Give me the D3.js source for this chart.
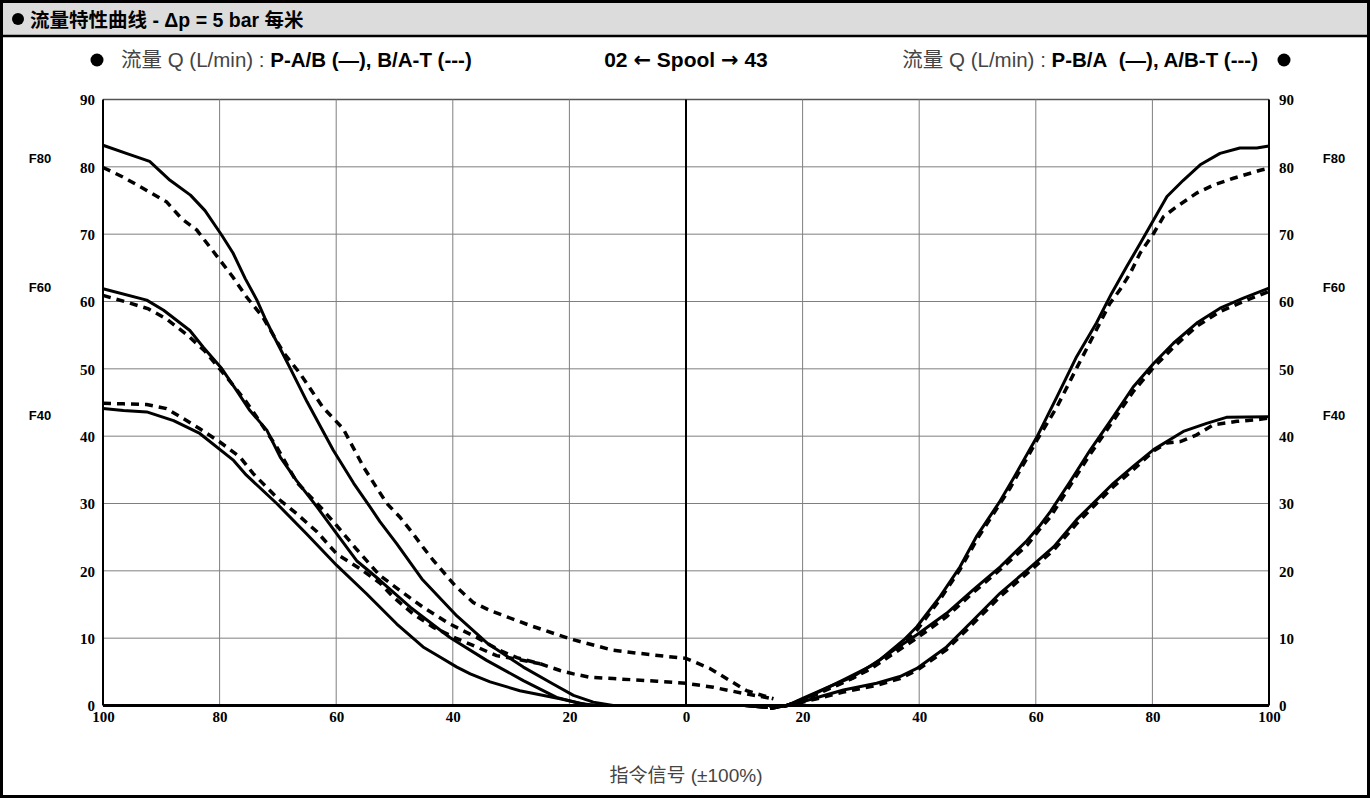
<!DOCTYPE html>
<html>
<head>
<meta charset="utf-8">
<script src="https://cdn.jsdelivr.net/npm/d3@7"></script>
<style>
  html, body { margin: 0; padding: 0; background: #fff; }
  svg { display: block; }
</style>
</head>
<body>
<svg id="chart" width="1370" height="798"></svg>
<script>
// ---------- DATA ----------
const chartTitle = "流量特性曲线 - Δp = 5 bar 每米";
const xTicks = [-100, -80, -60, -40, -20, 0, 20, 40, 60, 80, 100];
const yTicks = [0, 10, 20, 30, 40, 50, 60, 70, 80, 90];
const sizeLabels = ["F80", "F60", "F40"];
const sizeLabelValues = [81.3, 62.1, 43.1];
const xAxisTitle = "指令信号 (±100%)";

// Left side (P-A/B solid, B/A-T dashed); x negative = left command
const leftF80Solid = [[-100,83.2],[-96,82],[-92,80.8],[-88.5,78],[-85,75.8],[-82.5,73.5],[-79.6,69.8],[-77.7,67.2],[-75.6,63.4],[-73.6,60.2],[-72.2,57.5],[-70.5,54.5],[-67.9,50.1],[-65,45.1],[-60.5,37.9],[-57,33],[-54.2,29.5],[-52.5,27.3],[-49.6,24],[-45.3,18.8],[-39.3,13.3],[-34,9.2],[-27.9,5.7],[-22.8,3.2],[-19.3,1.5],[-15.9,0.5],[-12.5,0],[0,0],[10,0],[14,-0.3]];
const leftF80Dashed = [[-100,79.9],[-96.6,78.5],[-92.5,76.5],[-89.1,74.8],[-86.5,72.3],[-83.9,70.6],[-79.9,66.1],[-77.7,63.6],[-75.4,60.7],[-72.6,57.7],[-69.1,52.5],[-66.2,49.3],[-62.3,44.3],[-58.8,41.1],[-55.3,35.4],[-53.1,32.4],[-51.3,30],[-49.1,28],[-46.8,25.5],[-45.1,23.5],[-43.3,21.5],[-39.6,17.8],[-36.5,15.3],[-33.6,14.1],[-26.8,11.9],[-19.9,9.9],[-12.5,8.2],[-5.6,7.5],[0,7],[4.1,5.5],[7.5,3.7],[10.4,2.2],[15,1.0]];
const leftF60Solid = [[-100,61.9],[-92.5,60.2],[-89.6,58.7],[-85.1,55.7],[-82.8,53.2],[-79.6,50],[-77.1,46.8],[-74.8,43.8],[-71.9,40.9],[-69.6,36.9],[-66.8,33.4],[-63.3,29.5],[-59.9,25.5],[-56.5,21.5],[-52.5,18.6],[-47.3,14.6],[-40.5,10.1],[-34.2,6.7],[-27.9,3.7],[-22.2,1.2],[-18.2,0.3],[-15.3,0],[0,0],[10,0],[14,-0.3]];
const leftF60Dashed = [[-100,60.9],[-95.9,59.9],[-92.2,58.9],[-89.1,57.4],[-85.5,55],[-82.5,52.6],[-79.6,49.6],[-77.6,47.5],[-75.6,45.3],[-73.6,42.8],[-70.2,38.4],[-66.8,33.2],[-62.2,29],[-59.9,26.7],[-56.5,23.2],[-52.5,19.3],[-49.1,17.1],[-45.1,14.6],[-40.5,12.1],[-35.9,10.1],[-32,8.2],[-29,7.1],[-25,6.2],[-21.6,5.2],[-19.3,4.7],[-16.5,4.2],[-12.5,4],[-5,3.6],[0,3.3],[4.7,2.7],[9.8,1.8],[15,1.0]];
// F40 return curve merges into the F60 return curve near 25 %
const leftF40Dashed = [[-100,44.9],[-96.5,44.8],[-92.5,44.7],[-89.1,44.1],[-86.2,42.6],[-83.4,41.1],[-79.9,39.1],[-76.5,36.9],[-74.2,34.4],[-70.2,30.9],[-66.8,28.5],[-63.3,25.8],[-59.9,22.5],[-55.9,20.3],[-52.5,18.2],[-50.2,16.1],[-46.8,13.6],[-43.3,11.6],[-39.5,10],[-35.9,8.7],[-32.5,7.4],[-29.1,6.9],[-25,6.2]];
const leftF40Solid = [[-100,44.1],[-96.5,43.8],[-92.5,43.6],[-87.9,42.3],[-83.4,40.4],[-77.6,36.4],[-75.4,34.2],[-70.2,30],[-65.1,25.5],[-59.9,20.8],[-54.8,16.6],[-49.6,12.1],[-45.1,8.7],[-42.2,7.2],[-39.3,5.7],[-37,4.7],[-33.6,3.5],[-28.5,2.2],[-21.6,1.0],[-17,0.1],[-15,0],[0,0],[10,0],[14,-0.3]];

// Right side (P-B/A solid, A/B-T dashed)
const rightF80Solid = [[14.4,-0.4],[17.3,0],[20.1,1.1],[24.1,2.6],[28.7,4.3],[33.3,6.8],[37.3,9.7],[39.6,11.7],[43.6,16.2],[47,20.6],[49.9,25.2],[53.9,30.4],[56.2,33.8],[60.2,39.9],[63.6,45.8],[67,51.8],[70.4,56.8],[73,61.2],[75.6,65.2],[77.9,68.6],[80.2,72.1],[82.5,75.6],[85.3,78],[88.2,80.3],[91.6,82],[95,82.8],[97.9,82.8],[100,83.1]];
const rightF80Dashed = [[14.4,-0.4],[17.3,0],[20.1,0.9],[24.1,2.4],[28.7,4.1],[33.3,6.5],[37.3,9.3],[39.6,11.2],[43.6,15.8],[47,20.2],[50,24.8],[55.6,32.3],[60.2,39.4],[63.6,44.3],[67,50.1],[70.4,55.8],[72.7,59.7],[74.4,61.7],[76.2,64.2],[77.9,67.2],[80.2,70.1],[81.9,72.6],[84.2,74.1],[87.6,76.1],[90.5,77.3],[93.9,78.3],[98.5,79.5],[100,79.8]];
const rightF60Solid = [[14.4,-0.4],[17.3,0],[20.1,0.9],[27,3.8],[31.6,5.8],[35.6,8.2],[39.6,10.5],[44.7,13.7],[49.3,17.2],[53.9,20.6],[58.5,24.5],[60.5,26.5],[62.5,28.8],[66,33.4],[69.3,37.9],[73.3,42.9],[76.7,47.3],[80.2,50.8],[83.6,53.8],[87.6,56.8],[91.6,59],[95.6,60.5],[100,62]];
const rightF60Dashed = [[14.4,-0.4],[17.3,0],[20.1,0.8],[27,3.4],[31.6,5.4],[35.6,7.7],[39.6,10],[44.7,13.2],[49.3,16.8],[53.9,20.2],[58.5,23.8],[60.5,26],[62.5,28],[66,32.8],[69.3,37.3],[73.3,42.3],[76.7,46.6],[80.2,50.2],[83.6,53.2],[87.6,56.3],[91.6,58.5],[95.6,60],[100,61.5]];
const rightF40Solid = [[14.4,-0.4],[17.3,0],[20.1,0.6],[27,2.3],[32.7,3.3],[36.7,4.3],[39.6,5.5],[44.7,8.7],[49.3,12.7],[53.9,16.7],[58.5,20.1],[63.1,23.6],[67,27.6],[70.4,30.5],[73.3,33],[76.7,35.5],[80.2,38],[85.3,40.7],[89.3,41.9],[92.7,42.8],[100,42.9]];
const rightF40Dashed = [[14.4,-0.4],[17.3,0],[20.1,0.5],[27,2.0],[32.7,3.0],[36.7,4.0],[39.6,5.2],[44.7,8.3],[49.3,12.2],[53.9,16.2],[58.5,19.6],[63.1,23.1],[67,27],[70.4,30],[73.3,32.5],[76.7,35],[80.2,37.8],[82.5,39],[84.8,39.2],[87.6,40.2],[90.5,41.7],[94.5,42.2],[98.5,42.5],[100,42.7]];

const solidSeries = [leftF80Solid, leftF60Solid, leftF40Solid, rightF80Solid, rightF60Solid, rightF40Solid];
const dashedSeries = [leftF80Dashed, leftF60Dashed, leftF40Dashed, rightF80Dashed, rightF60Dashed, rightF40Dashed];

// ---------- DRAW ----------
const W = 1370, H = 798;
const svg = d3.select("#chart");
const plot = { left: 103, right: 1269, top: 99.5, bottom: 705.5 };

const x = d3.scaleLinear().domain([-100, 100]).range([plot.left, plot.right]);
const y = d3.scaleLinear().domain([0, 90]).range([plot.bottom, plot.top]);

svg.append("rect").attr("x", 0).attr("y", 0).attr("width", W).attr("height", H).attr("fill", "#fff");

// title bar
svg.append("rect").attr("x", 0).attr("y", 0).attr("width", W).attr("height", 36).attr("fill", "#dcdcdc");
svg.append("line").attr("x1", 0).attr("x2", W).attr("y1", 36).attr("y2", 36).attr("stroke", "#000").attr("stroke-width", 2.5);
svg.append("circle").attr("cx", 18).attr("cy", 19).attr("r", 6).attr("fill", "#000");
svg.append("text").attr("x", 30).attr("y", 27)
  .attr("font-family", "Liberation Sans, Noto Sans CJK SC, sans-serif")
  .attr("font-size", 19.5).attr("font-weight", "bold").attr("fill", "#000")
  .text(chartTitle);

// legend row
const legendFont = "Liberation Sans, Noto Sans CJK SC, sans-serif";
const legY = 67;
svg.append("circle").attr("cx", 97).attr("cy", 60).attr("r", 6.5).attr("fill", "#000");
const leftLeg = svg.append("text").attr("x", 121).attr("y", legY).attr("font-family", legendFont).attr("font-size", 20.5);
leftLeg.append("tspan").attr("fill", "#444").text("流量 Q (L/min) : ");
leftLeg.append("tspan").attr("font-weight", "bold").attr("fill", "#000").text("P-A/B (—), B/A-T (---)");

const midLeg = svg.append("text").attr("x", 686).attr("y", legY).attr("text-anchor", "middle")
  .attr("font-family", legendFont).attr("font-size", 21).attr("font-weight", "bold");
midLeg.append("tspan").text("02 ");
midLeg.append("tspan").attr("font-family", "DejaVu Sans, sans-serif").text("←");
midLeg.append("tspan").text(" Spool ");
midLeg.append("tspan").attr("font-family", "DejaVu Sans, sans-serif").text("→");
midLeg.append("tspan").text(" 43");

const rightLeg = svg.append("text").attr("x", 1258).attr("y", legY).attr("text-anchor", "end").attr("font-family", legendFont).attr("font-size", 20.5);
rightLeg.append("tspan").attr("fill", "#444").text("流量 Q (L/min) : ");
rightLeg.append("tspan").attr("font-weight", "bold").attr("fill", "#000").text("P-B/A\u00a0\u00a0(—), A/B-T (---)");
svg.append("circle").attr("cx", 1284).attr("cy", 60).attr("r", 6.5).attr("fill", "#000");

// grid
const g = svg.append("g");
g.selectAll("line.hgrid").data(yTicks.filter(d => d > 0)).join("line")
  .attr("x1", plot.left).attr("x2", plot.right)
  .attr("y1", d => y(d)).attr("y2", d => y(d))
  .attr("stroke", d => d === 90 ? "#555" : "#7f7f7f").attr("stroke-width", d => d === 90 ? 1.5 : 1);
g.selectAll("line.vgrid").data(xTicks.filter(d => d !== -100 && d !== 100)).join("line")
  .attr("x1", d => x(d)).attr("x2", d => x(d))
  .attr("y1", plot.top).attr("y2", plot.bottom)
  .attr("stroke", d => d === 0 ? "#000" : "#7f7f7f").attr("stroke-width", d => d === 0 ? 2 : 1);

// axes frame
g.append("line").attr("x1", x(-100)).attr("x2", x(-100)).attr("y1", plot.top).attr("y2", plot.bottom).attr("stroke", "#000").attr("stroke-width", 2);
g.append("line").attr("x1", x(100)).attr("x2", x(100)).attr("y1", plot.top).attr("y2", plot.bottom).attr("stroke", "#000").attr("stroke-width", 2);
g.append("line").attr("x1", plot.left).attr("x2", plot.right).attr("y1", y(0)).attr("y2", y(0)).attr("stroke", "#000").attr("stroke-width", 3);

// tick labels
const tickFont = "Liberation Serif, DejaVu Serif, serif";
const leftAxis = d3.axisLeft(y).tickValues(yTicks).tickSize(0).tickPadding(0).tickFormat(d3.format("d"));
const ga = svg.append("g").attr("transform", `translate(${plot.left - 8},0)`).call(leftAxis);
ga.select(".domain").remove();
ga.selectAll("text").attr("font-family", tickFont).attr("font-size", 15).attr("font-weight", "bold").attr("fill", "#000").attr("dy", "0.35em");

const rightAxis = d3.axisRight(y).tickValues(yTicks).tickSize(0).tickPadding(0).tickFormat(d3.format("d"));
const gr = svg.append("g").attr("transform", `translate(${plot.right + 10},0)`).call(rightAxis);
gr.select(".domain").remove();
gr.selectAll("text").attr("font-family", tickFont).attr("font-size", 15).attr("font-weight", "bold").attr("fill", "#000").attr("dy", "0.35em");

const bottomAxis = d3.axisBottom(x).tickValues(xTicks).tickSize(0).tickPadding(0).tickFormat(d => Math.abs(d));
const gb = svg.append("g").attr("transform", `translate(0,${plot.bottom + 3})`).call(bottomAxis);
gb.select(".domain").remove();
gb.selectAll("text").attr("font-family", tickFont).attr("font-size", 15).attr("font-weight", "bold").attr("fill", "#000").attr("dy", "0.9em");

// size labels
const sizeFont = "Liberation Sans, Arial, sans-serif";
sizeLabels.forEach((lab, i) => {
  svg.append("text").attr("x", 40).attr("y", y(sizeLabelValues[i])).attr("text-anchor", "middle").attr("dy", "0.35em")
    .attr("font-family", sizeFont).attr("font-size", 13).attr("font-weight", "bold").text(lab);
  svg.append("text").attr("x", 1334).attr("y", y(sizeLabelValues[i])).attr("text-anchor", "middle").attr("dy", "0.35em")
    .attr("font-family", sizeFont).attr("font-size", 13).attr("font-weight", "bold").text(lab);
});

// x axis title
svg.append("text").attr("x", x(0)).attr("y", 782).attr("text-anchor", "middle")
  .attr("font-family", legendFont).attr("font-size", 19).attr("fill", "#444").text(xAxisTitle);

// curves
const line = d3.line().x(d => x(d[0])).y(d => y(d[1])).curve(d3.curveLinear);
const curves = svg.append("g");
curves.selectAll("path.dashed").data(dashedSeries).join("path")
  .attr("d", line).attr("fill", "none").attr("stroke", "#000")
  .attr("stroke-width", 3.5).attr("stroke-dasharray", "8,6");
curves.selectAll("path.solid").data(solidSeries).join("path")
  .attr("d", line).attr("fill", "none").attr("stroke", "#000")
  .attr("stroke-width", 3).attr("stroke-linejoin", "round");

// outer frame
svg.append("rect").attr("x", 1.5).attr("y", 1.5).attr("width", W - 3).attr("height", H - 3)
  .attr("fill", "none").attr("stroke", "#000").attr("stroke-width", 3);
</script>
</body>
</html>
